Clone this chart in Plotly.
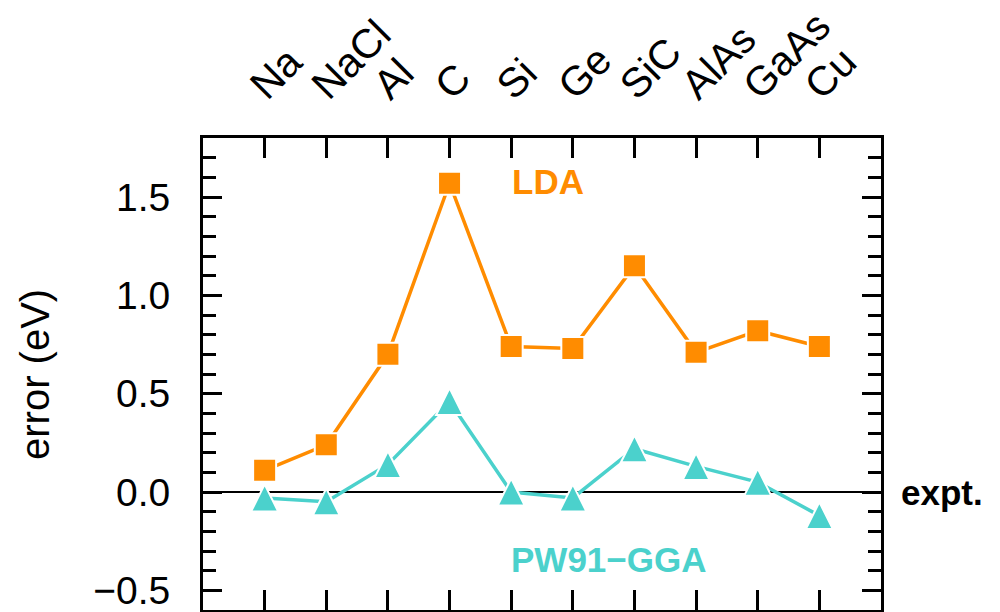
import plotly.graph_objects as go

# Materials along the x axis
materials = ["Na", "NaCl", "Al", "C", "Si", "Ge", "SiC", "AlAs", "GaAs", "Cu"]

# Error relative to experiment (eV)
lda_error = [0.11, 0.24, 0.70, 1.57, 0.74, 0.73, 1.15, 0.71, 0.82, 0.74]
gga_error = [-0.03, -0.05, 0.14, 0.46, 0.00, -0.03, 0.22, 0.13, 0.05, -0.12]

ORANGE = "#FF8C00"
TURQ = "#4BD1CC"
FONT = "Liberation Sans, Arial, Helvetica, sans-serif"

fig = go.Figure()

fig.add_trace(go.Scatter(
    x=materials, y=lda_error, mode="lines+markers", name="LDA",
    line=dict(color=ORANGE, width=3.5),
    marker=dict(symbol="square", size=23, color=ORANGE,
                line=dict(color="white", width=2)),
    showlegend=False,
))

# Tall triangles: arrow symbol flipped and centred on the point
tri_size = 27
fig.add_trace(go.Scatter(
    x=materials, y=gga_error, mode="lines+markers", name="PW91-GGA",
    line=dict(color=TURQ, width=3.5),
    marker=dict(symbol="arrow-down", angle=180, standoff=tri_size / 2,
                size=tri_size, color=TURQ,
                line=dict(color="white", width=2)),
    showlegend=False,
))

fig.add_annotation(text="LDA", x=0.509, xref="paper", y=1.579, yref="y",
                   showarrow=False, xanchor="center", yanchor="middle",
                   font=dict(family=FONT, size=35, color=ORANGE, weight="bold"))
fig.add_annotation(text="PW91\u2212GGA", x=0.598, xref="paper", y=-0.341, yref="y",
                   showarrow=False, xanchor="center", yanchor="middle",
                   font=dict(family=FONT, size=35, color=TURQ, weight="bold"))
fig.add_annotation(text="expt.", x=1.026, xref="paper", y=0.0, yref="y",
                   showarrow=False, xanchor="left", yanchor="middle",
                   font=dict(family=FONT, size=35, color="black", weight="bold"))
fig.add_annotation(text="error (eV)", x=-0.2478, xref="paper", y=0.5, yref="paper",
                   showarrow=False, xanchor="center", yanchor="middle", textangle=-90,
                   font=dict(family=FONT, size=40, color="black"))

fig.update_xaxes(
    type="category", categoryorder="array", categoryarray=materials,
    range=[-1, 10], side="top", tickangle=-45, automargin=False,
    showline=True, linecolor="black", linewidth=3, mirror="ticks",
    ticks="inside", ticklen=20, tickwidth=3, tickcolor="black",
    ticklabelstandoff=11, ticklabelshift=-12,
    tickfont=dict(family=FONT, size=41, color="black"),
    showgrid=False, zeroline=False,
)
fig.update_yaxes(
    range=[-0.6, 1.8], tickmode="linear", tick0=0, dtick=0.5, tickformat=".1f",
    automargin=False,
    showline=True, linecolor="black", linewidth=3, mirror="ticks",
    ticks="inside", ticklen=19, tickwidth=3, tickcolor="black",
    minor=dict(dtick=0.1, ticks="inside", ticklen=13, tickwidth=3, tickcolor="black"),
    ticklabelstandoff=22,
    tickfont=dict(family=FONT, size=39, color="black"),
    showgrid=False, zeroline=True, zerolinecolor="black", zerolinewidth=1.5,
)

fig.update_layout(
    width=1000, height=612,
    margin=dict(l=203, r=119, t=138, b=2, autoexpand=False),
    plot_bgcolor="white", paper_bgcolor="white",
)

fig.write_html("out.html")
